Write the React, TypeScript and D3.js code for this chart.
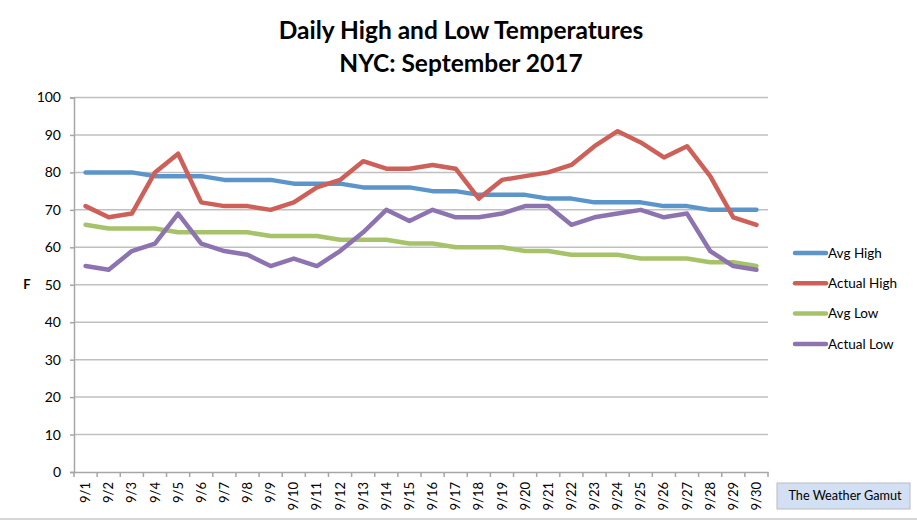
import { useEffect, useRef } from 'react';
import * as d3 from 'd3';

const days = ['9/1','9/2','9/3','9/4','9/5','9/6','9/7','9/8','9/9','9/10','9/11','9/12','9/13','9/14','9/15',
  '9/16','9/17','9/18','9/19','9/20','9/21','9/22','9/23','9/24','9/25','9/26','9/27','9/28','9/29','9/30'];

const avgHigh    = [80,80,80,79,79,79,78,78,78,77,77,77,76,76,76,75,75,74,74,74,73,73,72,72,72,71,71,70,70,70];
const actualHigh = [71,68,69,80,85,72,71,71,70,72,76,78,83,81,81,82,81,73,78,79,80,82,87,91,88,84,87,79,68,66];
const avgLow     = [66,65,65,65,64,64,64,64,63,63,63,62,62,62,61,61,60,60,60,59,59,58,58,58,57,57,57,56,56,55];
const actualLow  = [55,54,59,61,69,61,59,58,55,57,55,59,64,70,67,70,68,68,69,71,71,66,68,69,70,68,69,59,55,54];

const seriesNames  = ['Avg High', 'Actual High', 'Avg Low', 'Actual Low'];
const seriesValues = [avgHigh, actualHigh, avgLow, actualLow];
const seriesColors = ['#5b95c9', '#cd6058', '#a7c36a', '#8d74b0'];

const yTicks = [0, 10, 20, 30, 40, 50, 60, 70, 80, 90, 100];

const FONT = 'Lato, "Open Sans", sans-serif';

export default function App() {
  const svgRef = useRef<SVGSVGElement>(null);

  useEffect(() => {
    if (!svgRef.current) return;
    const W = 917, H = 520;
    const margin = { left: 74, right: 149, top: 97.5, bottom: 48 };

    const svg = d3.select(svgRef.current);
    svg.selectAll('*').remove();
    svg.attr('width', W).attr('height', H);

    svg.append('rect').attr('width', W).attr('height', H).attr('fill', '#fff');

    const x = d3.scaleBand<string>().domain(days).range([margin.left, W - margin.right]);
    const y = d3.scaleLinear().domain([0, 100]).range([H - margin.bottom, margin.top]);

    // Title
    const title = svg.append('text')
      .attr('x', 461).attr('text-anchor', 'middle')
      .attr('font-family', FONT).attr('font-weight', 'bold').attr('font-size', 24.5).attr('fill', '#000');
    title.append('tspan').attr('x', 461).attr('y', 39).text('Daily High and Low Temperatures');
    title.append('tspan').attr('x', 461).attr('y', 72).text('NYC: September 2017');

    // Gridlines
    svg.append('g').selectAll('line')
      .data(yTicks.filter(t => t > 0))
      .join('line')
      .attr('x1', margin.left).attr('x2', W - margin.right)
      .attr('y1', d => y(d)).attr('y2', d => y(d))
      .attr('stroke', '#c0c0c0').attr('stroke-width', 1.5);

    // Y axis
    const yAxis = svg.append('g')
      .attr('transform', `translate(${margin.left},0)`)
      .call(d3.axisLeft(y).tickValues(yTicks).tickSize(4).tickPadding(9));
    yAxis.select('.domain').attr('stroke', '#a6a6a6').attr('stroke-width', 1.5);
    yAxis.selectAll('.tick line').attr('stroke', '#a6a6a6').attr('stroke-width', 1.5);
    yAxis.selectAll('.tick text').attr('font-family', FONT).attr('font-size', 14).attr('fill', '#000');

    svg.append('text')
      .attr('x', 27).attr('y', y(50)).attr('dy', '0.35em')
      .attr('text-anchor', 'middle')
      .attr('font-family', FONT).attr('font-weight', 'bold').attr('font-size', 13)
      .text('F');

    // X axis
    const xAxis = svg.append('g')
      .attr('transform', `translate(0,${y(0)})`)
      .call(d3.axisBottom(x).tickSize(0).tickPadding(0));
    xAxis.select('.domain').attr('stroke', '#a6a6a6').attr('stroke-width', 1.5);
    xAxis.selectAll('.tick text')
      .attr('font-family', FONT).attr('font-size', 13).attr('fill', '#000')
      .attr('transform', 'rotate(-90)')
      .attr('text-anchor', 'end')
      .attr('x', -10).attr('y', 0).attr('dy', '0.35em');
    // category separators
    svg.append('g').selectAll('line')
      .data(d3.range(days.length + 1))
      .join('line')
      .attr('x1', i => margin.left + i * x.bandwidth())
      .attr('x2', i => margin.left + i * x.bandwidth())
      .attr('y1', y(0)).attr('y2', y(0) + 5)
      .attr('stroke', '#a6a6a6').attr('stroke-width', 1.5);

    // Lines
    const line = d3.line<number>()
      .x((_, i) => (x(days[i]) ?? 0) + x.bandwidth() / 2)
      .y(d => y(d));

    seriesValues.forEach((vals, s) => {
      svg.append('path')
        .datum(vals)
        .attr('d', line)
        .attr('fill', 'none')
        .attr('stroke', seriesColors[s])
        .attr('stroke-width', 4.5)
        .attr('stroke-linejoin', 'round')
        .attr('stroke-linecap', 'round');
    });

    // Legend
    const leg = svg.append('g');
    seriesNames.forEach((name, i) => {
      const ly = 253 + i * 30.3;
      leg.append('line')
        .attr('x1', 795).attr('x2', 826).attr('y1', ly).attr('y2', ly)
        .attr('stroke', seriesColors[i]).attr('stroke-width', 4.5).attr('stroke-linecap', 'round');
      leg.append('text')
        .attr('x', 828).attr('y', ly).attr('dy', '0.35em')
        .attr('font-family', FONT).attr('font-size', 13.5).attr('fill', '#000')
        .text(name);
    });

    // Source box
    svg.append('rect')
      .attr('x', 777).attr('y', 483).attr('width', 133).attr('height', 26)
      .attr('fill', '#d3e0f3').attr('stroke', '#b8bcc4').attr('stroke-width', 1);
    svg.append('text')
      .attr('x', 845).attr('y', 496).attr('dy', '0.35em').attr('text-anchor', 'middle')
      .attr('font-family', FONT).attr('font-size', 12.7).attr('fill', '#000')
      .text('The Weather Gamut');

    // bottom frame line
    svg.append('line')
      .attr('x1', 0).attr('x2', W).attr('y1', 519).attr('y2', 519)
      .attr('stroke', '#c8c8c8').attr('stroke-width', 1.5);
  }, []);

  return (
    <div>
      <svg ref={svgRef} style={{ position: 'absolute', left: 0, top: 0 }} />
    </div>
  );
}
